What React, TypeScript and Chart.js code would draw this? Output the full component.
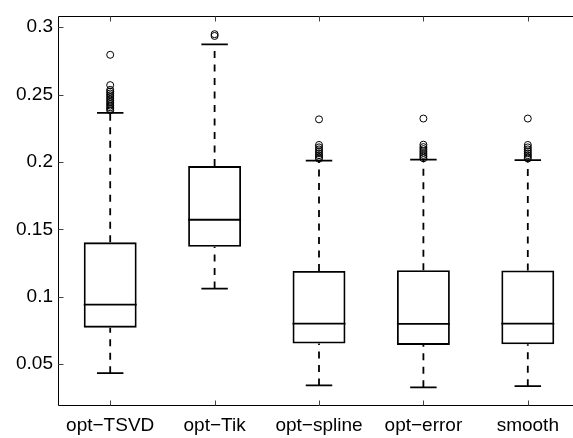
import { useEffect, useRef } from "react";
import { Chart, registerables } from "chart.js";

Chart.register(...registerables);

const CATEGORIES = ["opt\u2212TSVD", "opt\u2212Tik", "opt\u2212spline", "opt\u2212error", "smooth"];
const LOWER_WHISKER = [0.0432, 0.106, 0.0341, 0.0327, 0.0336];
const Q1 = [0.077, 0.1371, 0.0652, 0.0642, 0.0647];
const MEDIAN = [0.0941, 0.1571, 0.08, 0.0798, 0.08];
const Q3 = [0.1403, 0.1969, 0.119, 0.1196, 0.1194];
const UPPER_WHISKER = [0.2364, 0.2872, 0.201, 0.2017, 0.2014];

const OUTLIERS_TSVD = [0.2795, 0.257, 0.2535, 0.2522, 0.2508, 0.2495, 0.2482, 0.2468, 0.2455, 0.2442, 0.243, 0.2418, 0.2405, 0.2393, 0.2382];
const OUTLIERS_TIK = [0.2948, 0.2935];
const OUTLIERS_SPLINE = [0.2316, 0.2126, 0.2108, 0.2093, 0.2078, 0.2064, 0.205, 0.2037, 0.2024];
const OUTLIERS_ERROR = [0.2322, 0.2128, 0.211, 0.2095, 0.208, 0.2066, 0.2052, 0.2039, 0.2027];
const OUTLIERS_SMOOTH = [0.2322, 0.2126, 0.2108, 0.2093, 0.2078, 0.2064, 0.205, 0.2037, 0.2025];
const OUTLIERS = [OUTLIERS_TSVD, OUTLIERS_TIK, OUTLIERS_SPLINE, OUTLIERS_ERROR, OUTLIERS_SMOOTH];

const Y_TICKS = [0.05, 0.1, 0.15, 0.2, 0.25, 0.3];
const Y_MIN = 0.0196;
const Y_MAX = 0.308;

const FONT = { family: "'Liberation Sans', Arial, Helvetica, sans-serif", size: 19 };

const boxPlugin = {
  id: "boxParts",
  afterDatasetsDraw(chart: any) {
    const ctx = chart.ctx;
    const ys = chart.scales.y;
    const meta = chart.getDatasetMeta(0);
    ctx.save();
    ctx.strokeStyle = "#000";
    ctx.lineWidth = 1.8;
    CATEGORIES.forEach((_c, i) => {
      const bar = meta.data[i];
      if (!bar) return;
      const cx = bar.x;
      const w = bar.width;
      const yLw = ys.getPixelForValue(LOWER_WHISKER[i]);
      const yQ1 = ys.getPixelForValue(Q1[i]);
      const yMed = ys.getPixelForValue(MEDIAN[i]);
      const yQ3 = ys.getPixelForValue(Q3[i]);
      const yUw = ys.getPixelForValue(UPPER_WHISKER[i]);
      // dashed whiskers
      ctx.setLineDash([7, 6.5]);
      ctx.beginPath();
      ctx.moveTo(cx, yLw);
      ctx.lineTo(cx, yQ1);
      ctx.stroke();
      ctx.beginPath();
      ctx.moveTo(cx, yQ3);
      ctx.lineTo(cx, yUw);
      ctx.stroke();
      ctx.setLineDash([]);
      // caps
      ctx.beginPath();
      ctx.moveTo(cx - w / 4, yLw);
      ctx.lineTo(cx + w / 4, yLw);
      ctx.moveTo(cx - w / 4, yUw);
      ctx.lineTo(cx + w / 4, yUw);
      ctx.stroke();
      // median
      ctx.beginPath();
      ctx.moveTo(cx - w / 2, yMed);
      ctx.lineTo(cx + w / 2, yMed);
      ctx.stroke();
    });
    ctx.restore();
  },
  afterDraw(chart: any) {
    const ctx = chart.ctx;
    const a = chart.chartArea;
    const xs = chart.scales.x;
    const ys = chart.scales.y;
    const L = Math.round(a.left) + 0.5;
    const R = Math.round(a.right) + 0.5;
    const T = Math.round(a.top) + 0.5;
    const B = Math.round(a.bottom) + 0.5;
    ctx.save();
    ctx.strokeStyle = "#000";
    ctx.lineWidth = 1;
    ctx.beginPath();
    ctx.rect(L, T, R - L, B - T);
    ctx.stroke();
    ctx.strokeStyle = "#444";
    ctx.beginPath();
    ys.ticks.forEach((t: any) => {
      const py = Math.round(ys.getPixelForValue(t.value)) + 0.5;
      ctx.moveTo(L, py);
      ctx.lineTo(L + 5, py);
      ctx.moveTo(R, py);
      ctx.lineTo(R - 5, py);
    });
    CATEGORIES.forEach((_c, i) => {
      const px = Math.round(xs.getPixelForValue(i)) + 0.5;
      ctx.moveTo(px, B);
      ctx.lineTo(px, B - 5);
      ctx.moveTo(px, T);
      ctx.lineTo(px, T + 5);
    });
    ctx.stroke();
    ctx.restore();
  },
};

export default function App() {
  const ref = useRef<HTMLCanvasElement | null>(null);
  useEffect(() => {
    if (!ref.current) return;
    const outlierPoints: { x: string; y: number }[] = [];
    OUTLIERS.forEach((list, i) => list.forEach((v) => outlierPoints.push({ x: CATEGORIES[i], y: v })));
    const chart = new Chart(ref.current, {
      type: "bar",
      data: {
        labels: CATEGORIES,
        datasets: [
          {
            type: "bar",
            data: Q1.map((q, i) => [q, Q3[i]]) as any,
            backgroundColor: "rgba(0,0,0,0)",
            borderColor: "#000",
            borderWidth: 1.8,
            borderSkipped: false,
            categoryPercentage: 1,
            barPercentage: 0.507,
          } as any,
          {
            type: "line",
            data: outlierPoints as any,
            showLine: false,
            pointStyle: "circle",
            pointRadius: 3.5,
            pointBorderWidth: 1,
            pointBorderColor: "#000",
            pointBackgroundColor: "rgba(0,0,0,0)",
          } as any,
        ],
      },
      options: {
        responsive: false,
        devicePixelRatio: 1,
        animation: false,
        events: [],
        layout: { padding: { top: 6, right: 10, bottom: 0, left: 0 } },
        plugins: { legend: { display: false }, tooltip: { enabled: false } },
        scales: {
          x: {
            type: "category",
            offset: true,
            grid: { display: false, drawTicks: false },
            border: { display: false },
            ticks: { font: FONT, color: "#000", padding: 9, maxRotation: 0, autoSkip: false },
            afterFit: (s: any) => {
              s.height = 33;
            },
          },
          y: {
            type: "linear",
            min: Y_MIN,
            max: Y_MAX,
            grid: { display: false, drawTicks: false },
            border: { display: false },
            afterBuildTicks: (s: any) => {
              s.ticks = Y_TICKS.map((v) => ({ value: v }));
            },
            ticks: { font: FONT, color: "#000", padding: 5, callback: (v: any) => String(v) },
            afterFit: (s: any) => {
              s.width = 58;
            },
          },
        },
      },
      plugins: [boxPlugin],
    } as any);
    return () => chart.destroy();
  }, []);
  return (
    <div
      style={{
        position: "fixed",
        left: 0,
        top: 0,
        width: 573,
        height: 438,
        overflow: "hidden",
        background: "#fff",
      }}
    >
      <canvas ref={ref} width={590} height={438} style={{ display: "block", width: 590, height: 438 }} />
    </div>
  );
}
